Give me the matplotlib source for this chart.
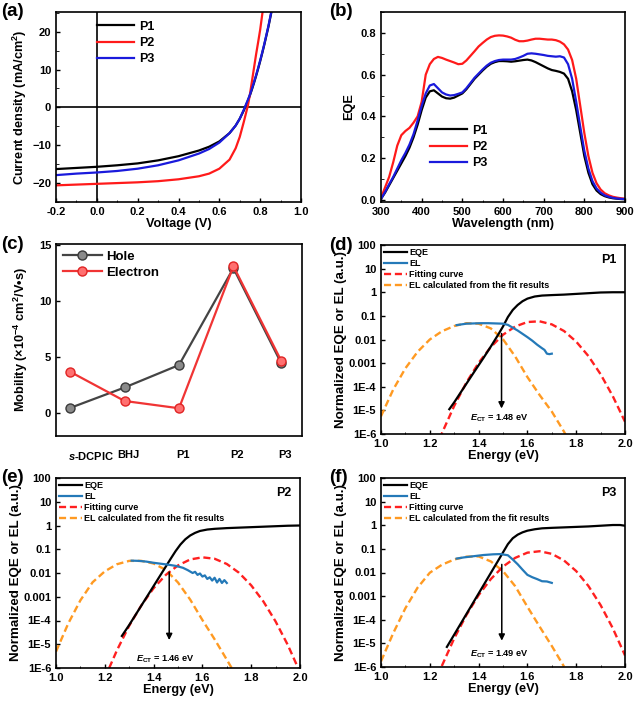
import numpy as np
import matplotlib
matplotlib.use('Agg')
import matplotlib.pyplot as plt
from matplotlib.ticker import FixedLocator, MultipleLocator, NullLocator, FormatStrFormatter
from matplotlib.lines import Line2D
import matplotlib.transforms as mtrans

plt.rcParams.update({
    'font.family': ['Liberation Sans', 'DejaVu Sans'],
    'font.weight': 'bold',
    'axes.labelweight': 'bold',
    'mathtext.fontset': 'custom',
    'mathtext.rm': 'Liberation Sans:bold',
    'mathtext.bf': 'Liberation Sans:bold',
    'mathtext.it': 'Liberation Sans:italic:bold',
    'axes.linewidth': 1.2,
    'xtick.direction': 'in', 'ytick.direction': 'in',
    'xtick.major.size': 3, 'ytick.major.size': 3,
    'xtick.minor.size': 1.8, 'ytick.minor.size': 1.8,
    'xtick.major.width': 1.0, 'ytick.major.width': 1.0,
    'xtick.labelsize': 8.0, 'ytick.labelsize': 8.0,
    'axes.labelsize': 9.2,
})

# ---------------- (a) J-V ----------------
jv_voltage = [-0.2, -0.1, 0.0, 0.1, 0.2, 0.3, 0.4, 0.5, 0.55, 0.6, 0.65, 0.68, 0.70, 0.72,
              0.74, 0.75, 0.76, 0.77, 0.78, 0.79, 0.80, 0.81, 0.82, 0.84, 0.86]
jv_p1 = [-16.3, -16.0, -15.7, -15.3, -14.8, -14.0, -12.9, -11.4, -10.4, -9.0, -6.8, -4.8, -3.0, -0.8,
         1.8, 3.2, 4.8, 6.5, 8.3, 10.2, 12.2, 14.3, 16.5, 21.2, 26.5]
jv_p2 = [-20.6, -20.4, -20.2, -20.0, -19.8, -19.5, -19.0, -18.2, -17.5, -16.2, -13.8, -10.8, -7.8, -3.8,
         0.5, 3.5, 7.0, 10.5, 14.0, 17.2, 20.5, 24.5, 28.5, 36.0, 44.0]
jv_p3 = [-17.9, -17.5, -17.2, -16.8, -16.2, -15.3, -14.0, -12.2, -11.0, -9.3, -6.8, -4.8, -3.0, -0.6,
         2.0, 3.4, 5.0, 6.7, 8.5, 10.4, 12.4, 14.5, 16.7, 21.4, 26.7]

# ---------------- (b) EQE ----------------
wavelength = [300, 310, 320, 330, 340, 350, 360, 370, 380, 390, 400, 410, 420, 430, 440, 450, 460, 470,
              480, 490, 500, 510, 520, 530, 540, 550, 560, 570, 580, 590, 600, 610, 620, 630, 640, 650,
              660, 670, 680, 690, 700, 710, 720, 730, 740, 750, 760, 770, 780, 790, 800, 810, 820, 830,
              840, 850, 860, 870, 880, 890, 900]
eqe_p1 = [0.005, 0.035, 0.07, 0.105, 0.14, 0.175, 0.21, 0.25, 0.30, 0.36, 0.43, 0.49, 0.52, 0.525, 0.51,
          0.495, 0.487, 0.485, 0.49, 0.50, 0.51, 0.53, 0.555, 0.58, 0.60, 0.62, 0.638, 0.652, 0.66, 0.665,
          0.665, 0.664, 0.662, 0.664, 0.667, 0.67, 0.672, 0.668, 0.66, 0.65, 0.64, 0.63, 0.622, 0.618,
          0.613, 0.605, 0.58, 0.52, 0.43, 0.32, 0.21, 0.13, 0.075, 0.045, 0.028, 0.018, 0.012, 0.008,
          0.006, 0.004, 0.003]
eqe_p2 = [0.01, 0.06, 0.11, 0.18, 0.26, 0.31, 0.33, 0.345, 0.37, 0.40, 0.47, 0.60, 0.65, 0.675, 0.685,
          0.68, 0.672, 0.665, 0.658, 0.65, 0.652, 0.668, 0.69, 0.712, 0.735, 0.752, 0.768, 0.78, 0.786,
          0.788, 0.787, 0.783, 0.777, 0.767, 0.76, 0.76, 0.763, 0.768, 0.772, 0.772, 0.77, 0.768, 0.768,
          0.765, 0.758, 0.745, 0.72, 0.67, 0.58, 0.45, 0.32, 0.21, 0.13, 0.08, 0.05, 0.032, 0.022, 0.015,
          0.011, 0.008, 0.006]
eqe_p3 = [0.005, 0.038, 0.075, 0.11, 0.15, 0.19, 0.225, 0.265, 0.315, 0.38, 0.45, 0.51, 0.548, 0.555,
          0.535, 0.515, 0.505, 0.50, 0.502, 0.508, 0.515, 0.535, 0.56, 0.585, 0.605, 0.625, 0.643, 0.657,
          0.665, 0.67, 0.672, 0.672, 0.672, 0.675, 0.682, 0.69, 0.70, 0.702, 0.70, 0.697, 0.694, 0.69,
          0.688, 0.686, 0.688, 0.682, 0.65, 0.58, 0.47, 0.35, 0.235, 0.15, 0.09, 0.055, 0.035, 0.022,
          0.015, 0.01, 0.007, 0.005, 0.004]

# ---------------- (c) mobility ----------------
mob_categories = ['$s$-DCPIC', 'BHJ', 'P1', 'P2', 'P3']
mob_hole = [0.45, 2.27, 4.27, 12.9, 4.42]
mob_electron = [3.67, 1.07, 0.42, 13.07, 4.63]

# ---------------- (d)-(f) EQE / EL (log10 of normalized values) ----------------
p1_eqe_E = [1.28, 1.30, 1.34, 1.38, 1.42, 1.45, 1.48, 1.50, 1.52, 1.54, 1.56, 1.58, 1.60, 1.63, 1.66,
            1.70, 1.75, 1.80, 1.85, 1.90, 1.95, 2.00]
p1_eqe_log = [-4.95, -4.66, -4.03, -3.40, -2.78, -2.30, -1.80, -1.45, -1.05, -0.75, -0.54, -0.38, -0.27,
              -0.18, -0.14, -0.12, -0.10, -0.07, -0.04, -0.01, 0.0, 0.0]
p1_el_E = [1.31, 1.33, 1.35, 1.38, 1.41, 1.44, 1.47, 1.50, 1.52, 1.54, 1.56, 1.58, 1.60, 1.62, 1.64,
           1.66, 1.67, 1.68, 1.69, 1.70]
p1_el_log = [-1.39, -1.36, -1.33, -1.32, -1.31, -1.31, -1.32, -1.33, -1.38, -1.50, -1.62, -1.76, -1.90,
             -2.05, -2.22, -2.37, -2.44, -2.60, -2.62, -2.60]
p1_fit_E = [1.24, 1.25, 1.30, 1.35, 1.40, 1.45, 1.50, 1.55, 1.60, 1.65, 1.70, 1.75, 1.80, 1.85, 1.90,
            1.95, 2.00]
p1_fit_log = [-6.21, -5.96, -4.81, -3.82, -2.99, -2.32, -1.80, -1.45, -1.26, -1.23, -1.36, -1.64, -2.09,
              -2.70, -3.47, -4.40, -5.48]
p1_cal_E = [1.00, 1.05, 1.10, 1.15, 1.20, 1.25, 1.30, 1.35, 1.40, 1.45, 1.50, 1.55, 1.60, 1.65, 1.70,
            1.75, 1.76]
p1_cal_log = [-5.25, -4.12, -3.22, -2.52, -2.00, -1.65, -1.43, -1.31, -1.33, -1.53, -1.99, -2.72, -3.59,
              -4.35, -5.05, -5.90, -6.10]

p2_eqe_E = [1.27, 1.30, 1.35, 1.40, 1.45, 1.47, 1.49, 1.51, 1.53, 1.55, 1.57, 1.59, 1.62, 1.65, 1.70,
            1.75, 1.80, 1.85, 1.90, 1.95, 2.00]
p2_eqe_log = [-4.65, -4.19, -3.37, -2.55, -1.73, -1.40, -1.08, -0.80, -0.58, -0.42, -0.31, -0.23, -0.17,
              -0.14, -0.11, -0.09, -0.07, -0.05, -0.03, -0.01, 0.0]
p2_el_E = [1.31, 1.34, 1.37, 1.40, 1.43, 1.46, 1.49, 1.52, 1.54, 1.56, 1.57, 1.58, 1.59, 1.60, 1.61,
           1.62, 1.63, 1.64, 1.65, 1.66, 1.67, 1.68, 1.69, 1.70]
p2_el_log = [-1.48, -1.49, -1.52, -1.57, -1.61, -1.65, -1.70, -1.78, -1.88, -2.00, -1.95, -2.08, -2.02,
             -2.15, -2.10, -2.25, -2.18, -2.32, -2.20, -2.40, -2.25, -2.42, -2.30, -2.42]
p2_fit_E = [1.20, 1.25, 1.30, 1.35, 1.40, 1.45, 1.50, 1.55, 1.60, 1.65, 1.70, 1.75, 1.80, 1.85, 1.90,
            1.95, 2.00]
p2_fit_log = [-6.42, -5.25, -4.22, -3.36, -2.64, -2.08, -1.68, -1.43, -1.34, -1.40, -1.62, -1.99, -2.52,
              -3.20, -4.04, -5.03, -6.18]
p2_cal_E = [1.00, 1.05, 1.10, 1.15, 1.20, 1.25, 1.30, 1.35, 1.40, 1.45, 1.50, 1.55, 1.60, 1.65, 1.70,
            1.72]
p2_cal_log = [-5.31, -4.13, -3.15, -2.39, -1.93, -1.63, -1.49, -1.49, -1.60, -1.87, -2.40, -3.12, -3.98,
              -4.79, -5.65, -6.00]

p3_eqe_E = [1.27, 1.30, 1.35, 1.40, 1.45, 1.48, 1.50, 1.52, 1.54, 1.56, 1.58, 1.60, 1.63, 1.66, 1.70,
            1.75, 1.80, 1.85, 1.90, 1.95, 1.98, 2.00]
p3_eqe_log = [-5.15, -4.63, -3.76, -2.89, -2.02, -1.50, -1.15, -0.80, -0.55, -0.40, -0.30, -0.23, -0.17,
              -0.13, -0.11, -0.09, -0.07, -0.05, -0.02, 0.01, 0.01, -0.02]
p3_el_E = [1.31, 1.34, 1.38, 1.42, 1.46, 1.49, 1.52, 1.54, 1.56, 1.58, 1.60, 1.62, 1.64, 1.66, 1.68,
           1.70]
p3_el_log = [-1.41, -1.36, -1.31, -1.26, -1.23, -1.22, -1.27, -1.45, -1.65, -1.88, -2.10, -2.20, -2.28,
             -2.37, -2.38, -2.44]
p3_fit_E = [1.20, 1.25, 1.30, 1.35, 1.40, 1.45, 1.50, 1.55, 1.60, 1.65, 1.70, 1.75, 1.80, 1.85, 1.90,
            1.95, 2.00]
p3_fit_log = [-7.24, -5.94, -4.79, -3.80, -2.96, -2.28, -1.75, -1.38, -1.16, -1.10, -1.21, -1.49, -1.94,
              -2.57, -3.38, -4.36, -5.51]
p3_cal_E = [1.00, 1.05, 1.10, 1.15, 1.20, 1.25, 1.30, 1.35, 1.40, 1.45, 1.50, 1.55, 1.60, 1.65, 1.70,
            1.75]
p3_cal_log = [-5.76, -4.57, -3.51, -2.64, -2.01, -1.67, -1.45, -1.33, -1.32, -1.53, -1.94, -2.58, -3.45,
              -4.29, -5.11, -5.98]

ect_values = [1.48, 1.46, 1.49]
log_ticks = [1e-6, 1e-5, 1e-4, 1e-3, 1e-2, 1e-1, 1, 10, 100]
log_tick_labels = ['1E-6', '1E-5', '1E-4', '0.001', '0.01', '0.1', '1', '10', '100']

# ---------------- figure ----------------
W, H = 638, 707
fig = plt.figure(figsize=(W / 100, H / 100), dpi=100)


def px_axes(l, t, r, b):
    return fig.add_axes([l / W, 1 - b / H, (r - l) / W, (b - t) / H])


ax_a = px_axes(56, 12, 301, 202)
ax_b = px_axes(381, 12, 625, 202)
ax_c = px_axes(56, 244, 302, 436)
ax_d = px_axes(381, 245, 625, 434)
ax_e = px_axes(56, 478, 300, 668)
ax_f = px_axes(381, 478, 625, 667)

for lab, (x, y) in zip(['(a)', '(b)', '(c)', '(d)', '(e)', '(f)'],
                       [(1, 3), (329, 3), (1, 236), (329, 237), (1, 469), (329, 469)]):
    fig.text(x / W, 1 - y / H, lab, fontsize=13.5, fontweight='bold', va='top', ha='left')

# (a)
ax = ax_a
ax.axhline(0, color='k', lw=1.2)
ax.axvline(0, color='k', lw=1.2)
ax.plot(jv_voltage, jv_p1, color='black', lw=1.6, label='P1')
ax.plot(jv_voltage, jv_p2, color='#ff1a1a', lw=1.6, label='P2')
ax.plot(jv_voltage, jv_p3, color='#1a1adc', lw=1.6, label='P3')
ax.set_xlim(-0.2, 1.0)
ax.set_ylim(-25, 25.2)
ax.xaxis.set_major_locator(MultipleLocator(0.2))
ax.xaxis.set_minor_locator(MultipleLocator(0.1))
ax.yaxis.set_major_locator(MultipleLocator(10))
ax.yaxis.set_minor_locator(MultipleLocator(5))
ax.xaxis.set_major_formatter(FormatStrFormatter('%.1f'))
ax.set_xlabel('Voltage (V)', labelpad=1)
ax.set_ylabel('Current density (mA/cm$^2$)', labelpad=2)
ax.legend(loc='upper left', bbox_to_anchor=(0.13, 1.0), frameon=False, fontsize=9,
          handlelength=3.0, handletextpad=0.4, labelspacing=0.35, borderaxespad=0.3)

# (b)
ax = ax_b
ax.plot(wavelength, eqe_p1, color='black', lw=1.6, label='P1')
ax.plot(wavelength, eqe_p2, color='#ff1a1a', lw=1.6, label='P2')
ax.plot(wavelength, eqe_p3, color='#1a1adc', lw=1.6, label='P3')
ax.set_xlim(300, 900)
ax.set_ylim(-0.01, 0.9)
ax.xaxis.set_major_locator(MultipleLocator(100))
ax.xaxis.set_minor_locator(MultipleLocator(50))
ax.yaxis.set_major_locator(MultipleLocator(0.2))
ax.yaxis.set_minor_locator(MultipleLocator(0.1))
ax.yaxis.set_major_formatter(FormatStrFormatter('%.1f'))
ax.set_xlabel('Wavelength (nm)', labelpad=1)
ax.set_ylabel('EQE', labelpad=4)
ax.legend(loc='lower left', bbox_to_anchor=(0.18, 0.145), frameon=False, fontsize=9,
          handlelength=3.0, handletextpad=0.4, labelspacing=0.35, borderaxespad=0.0)

# (c)
ax = ax_c
mob_x = np.arange(len(mob_categories), dtype=float)
mob_x[-1] -= 0.12
ax.plot(mob_x, mob_hole, '-o', color='#444444', lw=1.6, ms=6.5, mfc='#8a8a8a', mec='#3a3a3a',
        mew=1.0, label='Hole')
ax.plot(mob_x, mob_electron, '-o', color='#f03434', lw=1.6, ms=6.5, mfc='#ff7070', mec='#e02424',
        mew=1.0, label='Electron')
ax.set_xlim(-0.26, 4.26)
ax.set_ylim(-2.05, 15.05)
ax.set_xticks(mob_x)
ax.set_xticklabels(mob_categories, fontsize=8)
ax.tick_params(axis='x', length=0, pad=10)
for i, t in enumerate(ax.get_xticklabels()):
    if i == 0:
        t.set_ha('left')
        t.set_transform(t.get_transform() + mtrans.ScaledTranslation(-2 / 100, 0, fig.dpi_scale_trans))
    else:
        t.set_transform(t.get_transform() + mtrans.ScaledTranslation(4 / 100, 0, fig.dpi_scale_trans))
ax.yaxis.set_major_locator(MultipleLocator(5))
ax.yaxis.set_minor_locator(NullLocator())
ax.set_ylabel('Mobility (×10$^{-4}$ cm$^2$/V•s)', labelpad=6)
ax.legend(loc='upper left', frameon=False, fontsize=9.5, handlelength=3.0, handletextpad=0.3,
          labelspacing=0.3, borderaxespad=0.3, borderpad=0.2)


# (d)-(f)
def ct_panel(ax, eqe_E, eqe_log, el_E, el_log, fit_E, fit_log, cal_E, cal_log, ect, name,
             arrow_x, arrow_top, arrow_bot, text_x, text_y):
    ax.plot(cal_E, 10 ** np.array(cal_log), color='#ff9a22', lw=1.7, ls=(0, (3, 1.6)))
    ax.plot(fit_E, 10 ** np.array(fit_log), color='#ff2020', lw=1.7, ls=(0, (3, 1.6)))
    ax.plot(eqe_E, 10 ** np.array(eqe_log), color='black', lw=1.6)
    ax.plot(el_E, 10 ** np.array(el_log), color='#2479b8', lw=1.6)
    ax.set_yscale('log')
    ax.set_xlim(1.0, 2.0)
    ax.set_ylim(1e-6, 100)
    ax.yaxis.set_major_locator(FixedLocator(log_ticks))
    ax.set_yticklabels(log_tick_labels)
    ax.yaxis.set_minor_locator(NullLocator())
    ax.xaxis.set_major_locator(MultipleLocator(0.2))
    ax.xaxis.set_minor_locator(MultipleLocator(0.1))
    ax.xaxis.set_major_formatter(FormatStrFormatter('%.1f'))
    ax.set_xlabel('Energy (eV)', labelpad=1)
    ax.set_ylabel('Normalized EQE or EL (a.u.)', labelpad=1, fontsize=9.6)
    ax.annotate('', xy=(arrow_x, arrow_bot), xytext=(arrow_x, arrow_top),
                arrowprops=dict(arrowstyle='-|>', color='black', lw=1.1, mutation_scale=9,
                                shrinkA=0, shrinkB=0))
    ax.text(text_x, text_y, r'$E_{\mathrm{CT}}$ = %.2f eV' % ect, fontsize=6.6, ha='center',
            va='center')
    ax.text(0.965, 0.955, name, transform=ax.transAxes, fontsize=9, ha='right', va='top')
    handles = [Line2D([], [], color='black', lw=1.6),
               Line2D([], [], color='#2479b8', lw=1.6),
               Line2D([], [], color='#ff2020', lw=1.7, ls=(0, (3, 1.6))),
               Line2D([], [], color='#ff9a22', lw=1.7, ls=(0, (3, 1.6)))]
    labels = ['EQE', 'EL', 'Fitting curve', 'EL calculated from the fit results']
    ax.legend(handles, labels, loc='upper left', frameon=False, fontsize=6.5, handlelength=2.6,
              handletextpad=0.25, labelspacing=0.25, borderaxespad=0.1, borderpad=0.2)


ct_panel(ax_d, p1_eqe_E, p1_eqe_log, p1_el_E, p1_el_log, p1_fit_E, p1_fit_log, p1_cal_E, p1_cal_log,
         ect_values[0], 'P1', 1.494, 0.018, 1.2e-5, 1.485, 4.5e-6)
ct_panel(ax_e, p2_eqe_E, p2_eqe_log, p2_el_E, p2_el_log, p2_fit_E, p2_fit_log, p2_cal_E, p2_cal_log,
         ect_values[1], 'P2', 1.464, 0.011, 1.5e-5, 1.45, 2.4e-6)
ct_panel(ax_f, p3_eqe_E, p3_eqe_log, p3_el_E, p3_el_log, p3_fit_E, p3_fit_log, p3_cal_E, p3_cal_log,
         ect_values[2], 'P3', 1.495, 0.022, 1.3e-5, 1.485, 3.5e-6)

fig.savefig('out.png', dpi=100)
